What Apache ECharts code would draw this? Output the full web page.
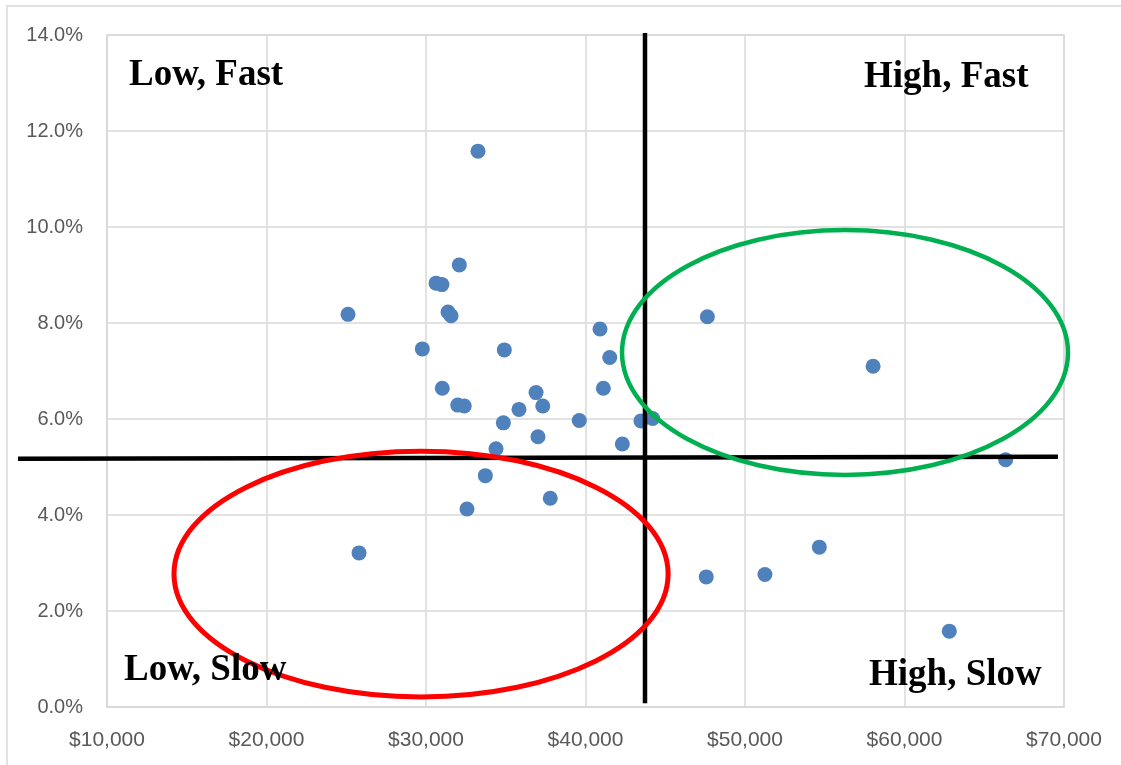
<!DOCTYPE html>
<html>
<head>
<meta charset="utf-8">
<script src="https://cdn.jsdelivr.net/npm/echarts@6/dist/echarts.min.js"></script>
<style>
html,body{margin:0;padding:0;background:#fff;}
#chart{width:1121px;height:765px;}
</style>
</head>
<body>
<div id="chart"></div>
<script>
// Household income (x) vs growth rate in % (y)
const incomes = [33260, 32090, 30630, 31000, 31380, 31570, 25110, 29770, 34910, 40910,
                 41520, 31020, 41120, 36900, 31990, 32400, 37320, 35830, 39610, 43480,
                 44210, 34850, 37020, 42310, 34390, 33720, 37790, 32570, 25800, 47640,
                 58030, 66340, 47570, 51250, 54660, 62810];
const rates   = [11.58, 9.21, 8.83, 8.80, 8.23, 8.15, 8.18, 7.46, 7.44, 7.875,
                 7.28, 6.64, 6.64, 6.55, 6.29, 6.27, 6.27, 6.20, 5.97, 5.96,
                 6.01, 5.92, 5.63, 5.48, 5.38, 4.82, 4.35, 4.125, 3.21, 8.13,
                 7.10, 5.15, 2.71, 2.76, 3.33, 1.58];
const xTicks = [10000, 20000, 30000, 40000, 50000, 60000, 70000];
const yTicks = [0, 2, 4, 6, 8, 10, 12, 14];
// Quadrant divider thresholds (data units)
const incomeSplit = 43730;
const rateSplitLeft = 5.17, rateSplitRight = 5.215;
const quadrantLabels = ['Low, Fast', 'High, Fast', 'Low, Slow', 'High, Slow'];
// Highlight ellipses: [centerIncome, centerRate, radiusIncome, radiusRate]
const greenEllipse = [56270, 7.385, 13980, 2.55];
const redEllipse = [29690, 2.77, 15490, 2.56];

const points = incomes.map((v, i) => [v, rates[i]]);

const chart = echarts.init(document.getElementById('chart'));
const gridColor = '#d9d9d9';
chart.setOption({
  animation: false,
  backgroundColor: '#fff',
  grid: {left: 107, right: 57, top: 35, bottom: 58, show: true, borderColor: gridColor, borderWidth: 1.5},
  xAxis: {
    type: 'value', min: xTicks[0], max: xTicks[xTicks.length - 1], interval: 10000,
    axisLine: {show: true, lineStyle: {color: gridColor, width: 1.5}},
    axisTick: {show: false},
    splitLine: {show: true, lineStyle: {color: gridColor, width: 1.5}},
    axisLabel: {
      color: '#595959', fontFamily: 'Liberation Sans', fontSize: 21, margin: 23,
      formatter: v => '$' + v.toLocaleString('en-US')
    }
  },
  yAxis: {
    type: 'value', min: yTicks[0], max: yTicks[yTicks.length - 1], interval: 2,
    axisLine: {show: true, lineStyle: {color: gridColor, width: 1.5}},
    axisTick: {show: false},
    splitLine: {show: true, lineStyle: {color: gridColor, width: 1.5}},
    axisLabel: {
      color: '#595959', fontFamily: 'Liberation Sans', fontSize: 20, margin: 24,
      formatter: v => v.toFixed(1) + '%'
    }
  },
  series: [{
    type: 'scatter', data: points, symbolSize: 15,
    itemStyle: {color: '#4f81bd', opacity: 1}
  }]
});

const px = (x, y) => chart.convertToPixel({gridIndex: 0}, [x, y]);
function ellipse(e, color, w) {
  const c = px(e[0], e[1]);
  const r = px(e[0] + e[2], e[1] - e[3]);
  return {type: 'ellipse', z: 100, silent: true,
    shape: {cx: c[0], cy: c[1], rx: r[0] - c[0], ry: r[1] - c[1]},
    style: {fill: 'none', stroke: color, lineWidth: w}};
}
const hL = px(4420, rateSplitLeft), hR = px(69620, rateSplitRight);
const vT = px(incomeSplit, 14.04), vB = px(incomeSplit, 0.08);
const labelFont = 'bold 37px "Liberation Serif", "Times New Roman", serif';
const labelPos = [[129, 75], [864, 77], [124, 670], [869, 675]];

chart.setOption({
  graphic: [
    {type: 'rect', z: 1, silent: true, shape: {x: 7, y: 6, width: 1300, height: 900},
     style: {fill: 'none', stroke: gridColor, lineWidth: 1.5}},
    {type: 'line', z: 100, shape: {x1: hL[0], y1: hL[1], x2: hR[0], y2: hR[1]},
     style: {stroke: '#000', lineWidth: 4.5}},
    {type: 'line', z: 100, shape: {x1: vT[0], y1: vT[1], x2: vB[0], y2: vB[1]},
     style: {stroke: '#000', lineWidth: 4.5}},
    ellipse(greenEllipse, '#00b050', 4.5),
    ellipse(redEllipse, '#ff0000', 5)
  ].concat(quadrantLabels.map((t, i) => ({
    type: 'text', z: 101, silent: true, x: labelPos[i][0], y: labelPos[i][1],
    style: {text: t, font: labelFont, fill: '#000', align: 'left', verticalAlign: 'middle'}
  })))
});
</script>
</body>
</html>
